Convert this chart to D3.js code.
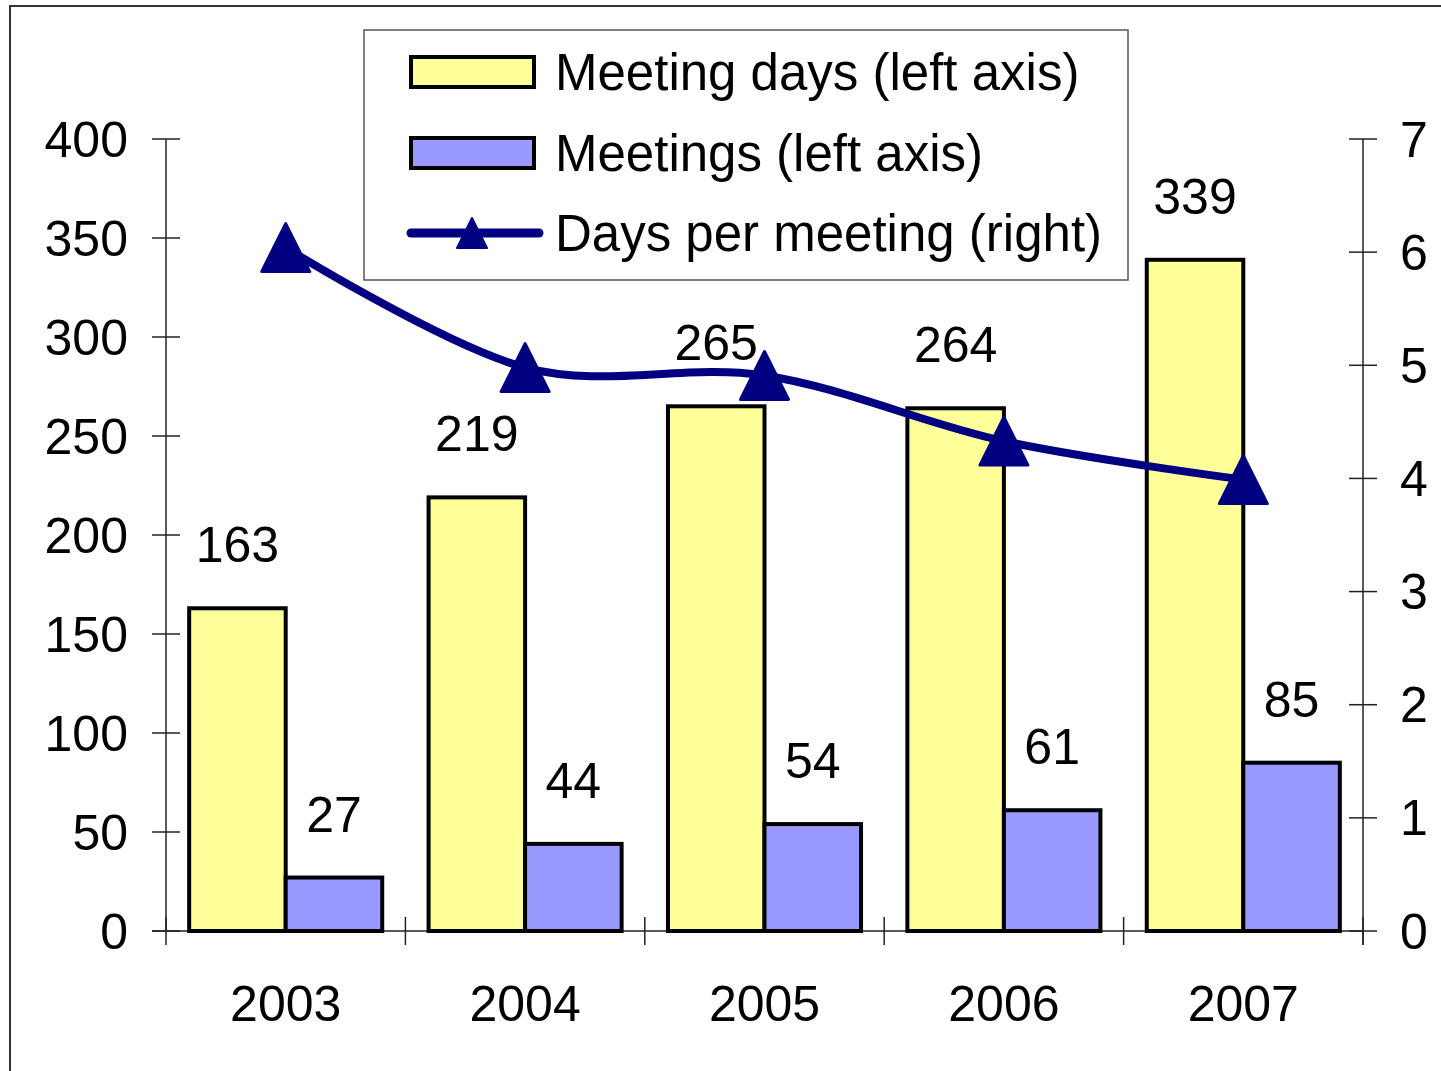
<!DOCTYPE html>
<html>
<head>
<meta charset="utf-8">
<script src="https://cdn.jsdelivr.net/npm/d3@7"></script>
<style>
  html, body { margin: 0; padding: 0; background: #fff; }
  svg { display: block; font-family: "Liberation Sans", Arial, sans-serif; }
</style>
</head>
<body>
<div id="chart"></div>
<script>
const years = ["2003", "2004", "2005", "2006", "2007"];
const meetingDays = [163, 219, 265, 264, 339];
const meetings = [27, 44, 54, 61, 85];
const daysPerMeeting = [6.04, 4.98, 4.91, 4.33, 3.99];
const leftTicks = [0, 50, 100, 150, 200, 250, 300, 350, 400];
const rightTicks = [0, 1, 2, 3, 4, 5, 6, 7];

const W = 1441, H = 1071;
const plot = { left: 166, right: 1363, top: 139, bottom: 931 };

const svg = d3.select("#chart").append("svg")
  .attr("width", W).attr("height", H);

// ---- outer frame (partly cut off) ----
svg.append("path")
  .attr("d", `M10,${H} L10,6 L${W},6`)
  .attr("fill", "none").attr("stroke", "#333").attr("stroke-width", 2);

// ---- scales ----
const x = d3.scaleBand().domain(years).range([plot.left, plot.right]);
const xs = d3.scaleBand().domain(["days", "meetings"])
  .range([0, x.bandwidth()]).paddingInner(0).paddingOuter(0.24);
const yL = d3.scaleLinear().domain([0, 400]).range([plot.bottom, plot.top]);
const yR = d3.scaleLinear().domain([0, 7]).range([plot.bottom, plot.top]);

const axisColor = "#222";
const fontSize = 50;

// ---- left axis ----
const gl = svg.append("g");
gl.append("line").attr("x1", plot.left).attr("x2", plot.left)
  .attr("y1", plot.top).attr("y2", plot.bottom)
  .attr("stroke", axisColor).attr("stroke-width", 1.5);
leftTicks.forEach(t => {
  gl.append("line").attr("x1", plot.left - 14).attr("x2", plot.left + 14)
    .attr("y1", yL(t)).attr("y2", yL(t))
    .attr("stroke", axisColor).attr("stroke-width", 1.5);
  gl.append("text").attr("x", 128).attr("y", yL(t)).attr("dy", "0.35em")
    .attr("text-anchor", "end").attr("font-size", fontSize).attr("fill", "#000")
    .text(t);
});

// ---- right axis ----
const gr = svg.append("g");
gr.append("line").attr("x1", plot.right).attr("x2", plot.right)
  .attr("y1", plot.top).attr("y2", plot.bottom + 14)
  .attr("stroke", axisColor).attr("stroke-width", 1.5);
rightTicks.forEach(t => {
  gr.append("line").attr("x1", plot.right - 14).attr("x2", plot.right + 14)
    .attr("y1", yR(t)).attr("y2", yR(t))
    .attr("stroke", axisColor).attr("stroke-width", 1.5);
  gr.append("text").attr("x", 1400).attr("y", yR(t)).attr("dy", "0.35em")
    .attr("text-anchor", "start").attr("font-size", fontSize).attr("fill", "#000")
    .text(t);
});

// ---- x axis ----
const gx = svg.append("g");
gx.append("line").attr("x1", plot.left - 14).attr("x2", plot.right)
  .attr("y1", plot.bottom).attr("y2", plot.bottom)
  .attr("stroke", axisColor).attr("stroke-width", 1.5);
years.concat(["end"]).forEach((yr, i) => {
  const bx = i < years.length ? x(yr) : plot.right;
  gx.append("line").attr("x1", bx).attr("x2", bx)
    .attr("y1", plot.bottom - 14).attr("y2", plot.bottom + 14)
    .attr("stroke", axisColor).attr("stroke-width", 1.5);
});
years.forEach(yr => {
  gx.append("text").attr("x", x(yr) + x.bandwidth() / 2).attr("y", 1021)
    .attr("text-anchor", "middle").attr("font-size", fontSize).attr("fill", "#000")
    .text(yr);
});

// ---- bars ----
const barData = years.flatMap((yr, i) => [
  { year: yr, key: "days", value: meetingDays[i], fill: "#FFFF99" },
  { year: yr, key: "meetings", value: meetings[i], fill: "#9999FF" }
]);

svg.append("g").selectAll("rect").data(barData).join("rect")
  .attr("x", d => x(d.year) + xs(d.key))
  .attr("y", d => yL(d.value))
  .attr("width", xs.bandwidth())
  .attr("height", d => yL(0) - yL(d.value))
  .attr("fill", d => d.fill)
  .attr("stroke", "#000").attr("stroke-width", 4);

svg.append("g").selectAll("text").data(barData).join("text")
  .attr("x", d => x(d.year) + xs(d.key) + xs.bandwidth() / 2)
  .attr("y", d => yL(d.value) - 46)
  .attr("text-anchor", "middle").attr("font-size", fontSize).attr("fill", "#000")
  .text(d => d.value);

// ---- line (right axis) ----
const navy = "#000080";
const pts = years.map((yr, i) => ({ x: x(yr) + x.bandwidth() / 2, y: yR(daysPerMeeting[i]) }));
const line = d3.line().x(d => d.x).y(d => d.y).curve(d3.curveCatmullRom.alpha(0));
svg.append("path").attr("d", line(pts))
  .attr("fill", "none").attr("stroke", navy).attr("stroke-width", 8)
  .attr("stroke-linejoin", "round");

const tri = s => `M0,${-s / 2}L${s / 2},${s / 2}L${-s / 2},${s / 2}Z`;
svg.append("g").selectAll("path").data(pts).join("path")
  .attr("transform", d => `translate(${d.x},${d.y})`)
  .attr("d", tri(48))
  .attr("fill", navy).attr("stroke", navy).attr("stroke-width", 3)
  .attr("stroke-linejoin", "round");

// ---- legend ----
const lg = svg.append("g");
lg.append("rect").attr("x", 364).attr("y", 30).attr("width", 764).attr("height", 250)
  .attr("fill", "#fff").attr("stroke", "#555").attr("stroke-width", 1.5);

const legendItems = [
  { label: "Meeting days (left axis)", type: "bar", fill: "#FFFF99", cy: 72 },
  { label: "Meetings (left axis)", type: "bar", fill: "#9999FF", cy: 153 },
  { label: "Days per meeting (right)", type: "line", cy: 233 }
];
legendItems.forEach(it => {
  if (it.type === "bar") {
    lg.append("rect").attr("x", 411).attr("y", it.cy - 15).attr("width", 123).attr("height", 30)
      .attr("fill", it.fill).attr("stroke", "#000").attr("stroke-width", 4);
  } else {
    lg.append("line").attr("x1", 411).attr("x2", 539).attr("y1", it.cy).attr("y2", it.cy)
      .attr("stroke", navy).attr("stroke-width", 9).attr("stroke-linecap", "round");
    lg.append("path").attr("transform", `translate(472,${it.cy})`).attr("d", tri(30))
      .attr("fill", navy).attr("stroke", navy).attr("stroke-width", 2)
      .attr("stroke-linejoin", "round");
  }
  lg.append("text").attr("x", 555).attr("y", it.cy).attr("dy", "0.36em")
    .attr("font-size", 51).attr("fill", "#000").text(it.label);
});
</script>
</body>
</html>
